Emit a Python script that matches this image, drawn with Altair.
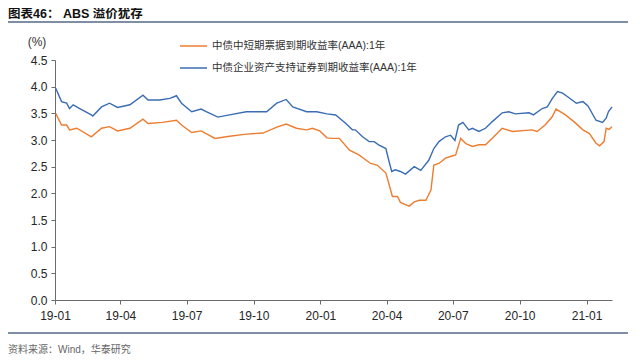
import altair as alt
import pandas as pd

FONT = "Liberation Sans, Arial, Noto Sans CJK SC, sans-serif"
CJK = "Liberation Sans, Noto Sans CJK SC, sans-serif"

title_text = "图表46：  ABS 溢价犹存"
source_text = "资料来源：Wind，华泰研究"
unit_text = "(%)"
orange_name = "中债中短期票据到期收益率(AAA):1年"
blue_name = "中债企业资产支持证券到期收益率(AAA):1年"

orange_dates = [
    "2019-01-02", "2019-01-10", "2019-01-17", "2019-01-21", "2019-01-31", "2019-02-20",
    "2019-03-06", "2019-03-17", "2019-03-28", "2019-04-14", "2019-05-02", "2019-05-09",
    "2019-05-29", "2019-06-17", "2019-06-24", "2019-07-08", "2019-07-21", "2019-08-09",
    "2019-08-29", "2019-09-21", "2019-10-14", "2019-11-02", "2019-11-15", "2019-11-29",
    "2019-12-13", "2019-12-21", "2019-12-31", "2020-01-10", "2020-01-17", "2020-01-27",
    "2020-02-10", "2020-02-23", "2020-03-10", "2020-03-19", "2020-03-31", "2020-04-04",
    "2020-04-09", "2020-04-16", "2020-04-20", "2020-05-02", "2020-05-09", "2020-05-16",
    "2020-05-25", "2020-06-01", "2020-06-05", "2020-06-12", "2020-06-21", "2020-06-30",
    "2020-07-05", "2020-07-12", "2020-07-19", "2020-07-28", "2020-08-06", "2020-08-15",
    "2020-08-24", "2020-09-07", "2020-09-21", "2020-10-18", "2020-10-25", "2020-11-05",
    "2020-11-15", "2020-11-20", "2020-12-03", "2020-12-15", "2020-12-27", "2021-01-05",
    "2021-01-14", "2021-01-19", "2021-01-25", "2021-01-28", "2021-02-01", "2021-02-05",
]
orange_vals = [
    3.50, 3.28, 3.28, 3.19, 3.22, 3.06,
    3.22, 3.25, 3.17, 3.22, 3.39, 3.31,
    3.33, 3.37, 3.28, 3.14, 3.17, 3.03,
    3.07, 3.11, 3.13, 3.24, 3.30, 3.22,
    3.19, 3.22, 3.17, 3.04, 3.03, 3.03,
    2.81, 2.72, 2.56, 2.53, 2.38, 2.19,
    1.94, 1.94, 1.83, 1.76, 1.84, 1.87,
    1.87, 2.06, 2.53, 2.56, 2.66, 2.70,
    2.72, 3.03, 2.93, 2.88, 2.91, 2.91,
    3.03, 3.22, 3.16, 3.19, 3.16, 3.28,
    3.44, 3.58, 3.47, 3.34, 3.19, 3.12,
    2.94, 2.89, 2.97, 3.22, 3.20, 3.25,
]

blue_dates = [
    "2019-01-02", "2019-01-10", "2019-01-17", "2019-01-21", "2019-01-26", "2019-02-04",
    "2019-02-20", "2019-02-22", "2019-03-06", "2019-03-17", "2019-03-28", "2019-04-14",
    "2019-05-02", "2019-05-09", "2019-05-25", "2019-06-08", "2019-06-17", "2019-06-24",
    "2019-07-08", "2019-07-21", "2019-07-28", "2019-08-13", "2019-08-29", "2019-09-21",
    "2019-10-19", "2019-11-02", "2019-11-15", "2019-11-24", "2019-12-13", "2019-12-27",
    "2020-01-10", "2020-01-22", "2020-02-05", "2020-02-14", "2020-02-18", "2020-02-28",
    "2020-03-08", "2020-03-15", "2020-03-21", "2020-03-31", "2020-04-04", "2020-04-08",
    "2020-04-13", "2020-04-20", "2020-04-27", "2020-05-09", "2020-05-18", "2020-05-29",
    "2020-06-05", "2020-06-12", "2020-06-21", "2020-06-28", "2020-07-04", "2020-07-09",
    "2020-07-15", "2020-07-23", "2020-07-28", "2020-08-06", "2020-08-15", "2020-08-24",
    "2020-09-07", "2020-09-16", "2020-09-25", "2020-10-14", "2020-10-20", "2020-11-01",
    "2020-11-08", "2020-11-15", "2020-11-22", "2020-11-29", "2020-12-06", "2020-12-18",
    "2020-12-27", "2021-01-03", "2021-01-14", "2021-01-23", "2021-01-28", "2021-01-31",
    "2021-02-05",
]
blue_vals = [
    3.97, 3.72, 3.69, 3.59, 3.66, 3.59,
    3.47, 3.45, 3.62, 3.69, 3.61, 3.66,
    3.84, 3.75, 3.75, 3.78, 3.83, 3.69,
    3.53, 3.58, 3.53, 3.43, 3.47, 3.53,
    3.53, 3.69, 3.76, 3.62, 3.53, 3.53,
    3.49, 3.47, 3.31, 3.19, 3.19, 3.06,
    2.97, 2.97, 2.91, 2.84, 2.62, 2.41,
    2.44, 2.41, 2.36, 2.50, 2.43, 2.62,
    2.84, 2.97, 3.06, 3.09, 2.99, 3.28,
    3.33, 3.19, 3.22, 3.16, 3.22, 3.34,
    3.51, 3.53, 3.49, 3.51, 3.47, 3.59,
    3.62, 3.78, 3.91, 3.88, 3.81, 3.69,
    3.72, 3.64, 3.37, 3.33, 3.41, 3.53,
    3.62,
]

x_tick_months = [(2019, 1), (2019, 4), (2019, 7), (2019, 10), (2020, 1),
                 (2020, 4), (2020, 7), (2020, 10), (2021, 1)]
y_ticks = [0.0, 0.5, 1.0, 1.5, 2.0, 2.5, 3.0, 3.5, 4.0, 4.5]

ORANGE = "#ED7D31"
BLUE = "#3A6DB3"
AXIS = "#6b6b6b"
SEP = "#7d8ea5"

df = pd.concat([
    pd.DataFrame({"date": [d + "T00:00" for d in orange_dates], "value": orange_vals, "series": orange_name}),
    pd.DataFrame({"date": [d + "T00:00" for d in blue_dates], "value": blue_vals, "series": blue_name}),
])

x_scale = alt.Scale(domain=[alt.DateTime(year=2019, month=1, date=1),
                            alt.DateTime(year=2021, month=2, date=5)])

lines = alt.Chart(df).mark_line(strokeWidth=1.4).encode(
    x=alt.X("date:T", scale=x_scale,
            axis=alt.Axis(values=[alt.DateTime(year=y, month=m, date=1) for y, m in x_tick_months],
                          format="%y-%m", title=None, grid=False, domainColor=AXIS, tickColor=AXIS,
                          tickSize=4, labelFont=FONT, labelFontSize=12, labelColor="#262626",
                          labelPadding=6, labelFlush=False, labelOverlap=False)),
    y=alt.Y("value:Q", scale=alt.Scale(domain=[0, 4.5], nice=False, zero=True),
            axis=alt.Axis(values=y_ticks, format=".1f", title=None, grid=False, domainColor=AXIS,
                          tickColor=AXIS, tickSize=4, labelFont=FONT, labelFontSize=12,
                          labelColor="#262626", labelPadding=4)),
    color=alt.Color("series:N", scale=alt.Scale(domain=[orange_name, blue_name], range=[ORANGE, BLUE]),
                    legend=None),
)

def text_layer(txt, x, y, size, color, weight="normal", align="left", font=CJK):
    return alt.Chart(pd.DataFrame({"t": [txt]})).mark_text(
        align=align, baseline="middle", fontSize=size, color=color, fontWeight=weight, font=font
    ).encode(text="t:N", x=alt.value(x), y=alt.value(y))

def rule_layer(name, x1, x2, y, color, width):
    return alt.Chart(pd.DataFrame({"s": [name]})).mark_rule(color=color, strokeWidth=width).encode(
        x=alt.value(x1), x2=alt.value(x2), y=alt.value(y), detail="s:N")

legend = (
    rule_layer(orange_name, 125, 152, -14, ORANGE, 1.5)
    + text_layer(orange_name, 157, -14, 10.5, "#333333")
    + rule_layer(blue_name, 125, 152, 8, BLUE, 1.5)
    + text_layer(blue_name, 157, 8, 10.5, "#333333")
)

sep_top = rule_layer("top", -47, 577, -38, SEP, 2)
sep_bottom = rule_layer("bottom", -47, 577, 273, SEP, 2)

decor = (
    text_layer(title_text, -47, -46, 12.5, "#111111", weight="bold")
    + text_layer(unit_text, -18, -18, 12, "#333333", align="center", font=FONT)
    + text_layer(source_text, -47, 290, 10, "#666666")
)

chart = alt.layer(lines, legend, sep_top, sep_bottom, decor).properties(
    width=557, height=240,
    padding={"left": 47, "top": 52, "right": 16, "bottom": 56},
    autosize=alt.AutoSizeParams(type="none"),
).configure_view(stroke=None)

chart.save("out.html", embed_options={"renderer": "svg", "actions": False})
